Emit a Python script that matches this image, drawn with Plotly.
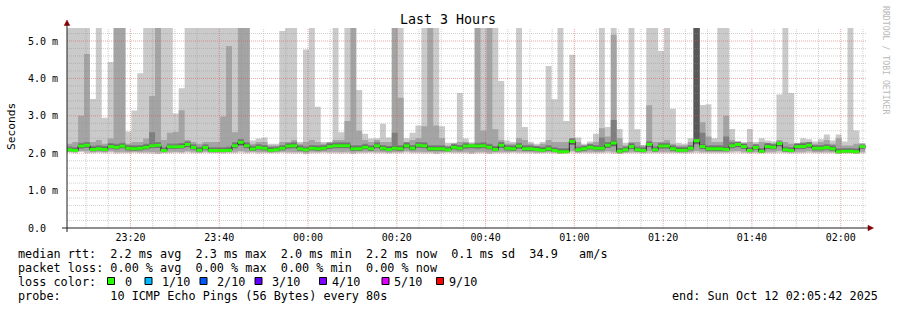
import numpy as np
import pandas as pd
import plotly.graph_objects as go

# ---------------- data (values in ms) ----------------
start_time = "2025-10-11 23:05:42"
end_time = "2025-10-12 02:05:42"
first_step = "2025-10-11 23:05:32"
step_seconds = 80

median_ms = [
    2.09, 2.07, 2.19, 2.21, 2.10, 2.12, 2.10, 2.18, 2.16, 2.19,
    2.13, 2.12, 2.13, 2.16, 2.20, 2.21, 2.07, 2.17, 2.17, 2.18,
    2.23, 2.15, 2.08, 2.15, 2.07, 2.07, 2.07, 2.08, 2.20, 2.29,
    2.20, 2.11, 2.15, 2.13, 2.08, 2.09, 2.13, 2.19, 2.20, 2.12,
    2.09, 2.13, 2.12, 2.13, 2.18, 2.20, 2.20, 2.20, 2.12, 2.12,
    2.16, 2.12, 2.20, 2.13, 2.10, 2.13, 2.12, 2.20, 2.13, 2.21,
    2.20, 2.12, 2.12, 2.12, 2.09, 2.16, 2.13, 2.19, 2.20, 2.19,
    2.20, 2.16, 2.10, 2.21, 2.13, 2.12, 2.19, 2.12, 2.12, 2.10,
    2.08, 2.12, 2.07, 2.04, 2.04, 2.31, 2.09, 2.12, 2.16, 2.13,
    2.13, 2.21, 2.27, 2.05, 2.09, 2.18, 2.09, 2.07, 2.23, 2.09,
    2.19, 2.19, 2.12, 2.08, 2.08, 2.13, 2.33, 2.18, 2.12, 2.12,
    2.12, 2.10, 2.20, 2.23, 2.18, 2.07, 2.15, 2.05, 2.18, 2.16,
    2.26, 2.09, 2.07, 2.18, 2.18, 2.21, 2.13, 2.13, 2.15, 2.12,
    2.04, 2.05, 2.05, 2.04, 2.18]

ping_max = [
    5.6, 5.6, 5.6, 5.6, 3.45, 5.6, 2.95, 4.44, 5.6, 5.6,
    2.58, 3.14, 4.14, 5.6, 5.6, 5.6, 5.6, 5.6, 3.06, 3.74,
    5.6, 5.6, 5.6, 5.6, 5.6, 5.6, 5.6, 5.6, 5.6, 5.6,
    5.6, 2.34, 2.39, 2.42, 2.25, 2.25, 5.27, 5.6, 5.6, 2.3,
    4.77, 5.6, 3.24, 2.3, 2.3, 5.6, 2.56, 5.6, 5.6, 3.69,
    2.52, 2.39, 2.4, 2.79, 2.42, 5.6, 5.6, 2.4, 2.55, 2.74,
    5.6, 5.6, 5.6, 2.72, 2.28, 2.28, 3.61, 2.39, 2.25, 5.6,
    5.6, 5.6, 5.6, 3.93, 2.34, 2.3, 5.6, 2.7, 2.3, 2.25,
    2.3, 4.33, 3.44, 5.6, 2.86, 4.63, 2.42, 2.25, 2.31, 2.52,
    5.6, 2.7, 5.6, 2.65, 2.28, 5.6, 2.64, 2.22, 5.6, 5.6,
    4.73, 5.6, 3.19, 2.28, 2.25, 2.4, 5.6, 3.29, 3.31, 2.4,
    5.6, 5.6, 2.65, 2.31, 2.3, 2.65, 2.3, 2.4, 2.34, 2.31,
    3.57, 5.6, 3.61, 2.28, 2.4, 2.37, 2.31, 2.37, 2.5, 2.34,
    2.5, 2.31, 5.6, 2.61, 2.25]

ping_p9 = [
    2.25, 2.3, 3.0, 4.65, 2.3, 2.35, 2.25, 2.39, 5.6, 5.6,
    2.25, 2.3, 2.3, 2.39, 3.53, 5.6, 2.35, 2.55, 2.57, 3.15,
    2.35, 2.3, 2.25, 2.3, 2.3, 2.3, 2.98, 4.87, 2.56, 5.6,
    5.6, 2.25, 2.3, 2.3, 2.2, 2.2, 2.3, 2.3, 2.35, 2.25,
    2.3, 2.35, 2.3, 2.25, 2.3, 2.35, 2.35, 2.86, 5.6, 2.6,
    2.35, 2.3, 2.35, 2.3, 2.3, 5.6, 3.48, 2.3, 2.35, 2.4,
    2.72, 5.6, 2.74, 2.4, 2.2, 2.25, 2.3, 2.3, 2.22, 5.6,
    2.61, 5.6, 2.64, 2.35, 2.25, 2.25, 2.4, 2.35, 2.25, 2.2,
    2.25, 2.35, 2.3, 2.3, 2.3, 2.4, 2.3, 2.2, 2.25, 2.3,
    2.67, 2.45, 5.17, 2.4, 2.2, 2.3, 2.3, 2.2, 3.28, 2.3,
    2.3, 2.35, 2.25, 2.2, 2.2, 2.3, 5.6, 2.83, 2.45, 2.3,
    2.3, 3.0, 2.35, 2.3, 2.25, 2.3, 2.25, 2.3, 2.28, 2.25,
    2.3, 2.3, 2.25, 2.25, 2.3, 2.3, 2.25, 2.3, 2.35, 2.25,
    2.4, 2.2, 2.2, 2.25, 2.2]

ping_p8 = [
    2.18, 2.16, 2.28, 2.30, 2.19, 2.21, 2.19, 2.27, 2.25, 2.28,
    2.22, 2.21, 2.22, 2.25, 2.56, 2.30, 2.16, 2.26, 2.26, 2.27,
    2.32, 2.24, 2.17, 2.24, 2.16, 2.16, 2.16, 2.17, 2.29, 2.38,
    2.29, 2.20, 2.24, 2.22, 2.17, 2.18, 2.22, 2.28, 2.29, 2.21,
    2.18, 2.22, 2.21, 2.22, 2.27, 2.29, 2.29, 2.29, 2.21, 2.21,
    2.25, 2.21, 2.29, 2.22, 2.19, 2.55, 2.21, 2.29, 2.22, 2.30,
    2.29, 2.21, 2.21, 2.21, 2.18, 2.25, 2.22, 2.28, 2.29, 2.28,
    2.29, 2.25, 2.19, 2.30, 2.22, 2.21, 2.28, 2.21, 2.21, 2.19,
    2.17, 2.21, 2.16, 2.13, 2.13, 2.40, 2.18, 2.21, 2.25, 2.22,
    2.42, 2.30, 2.89, 2.14, 2.18, 2.27, 2.18, 2.16, 2.32, 2.18,
    2.28, 2.28, 2.21, 2.17, 2.17, 2.22, 5.6, 2.55, 2.21, 2.21,
    2.21, 2.45, 2.29, 2.32, 2.27, 2.16, 2.24, 2.14, 2.27, 2.25,
    2.35, 2.18, 2.16, 2.27, 2.27, 2.30, 2.22, 2.22, 2.24, 2.21,
    2.13, 2.14, 2.14, 2.13, 2.27]

ping_p7 = [
    2.14, 2.12, 2.24, 2.26, 2.15, 2.17, 2.15, 2.23, 2.21, 2.24,
    2.18, 2.17, 2.18, 2.21, 2.25, 2.26, 2.12, 2.22, 2.22, 2.23,
    2.28, 2.20, 2.13, 2.20, 2.12, 2.12, 2.12, 2.13, 2.25, 2.34,
    2.25, 2.16, 2.20, 2.18, 2.13, 2.14, 2.18, 2.24, 2.25, 2.17,
    2.14, 2.18, 2.17, 2.18, 2.23, 2.25, 2.25, 2.25, 2.17, 2.17,
    2.21, 2.17, 2.25, 2.18, 2.15, 2.18, 2.17, 2.25, 2.18, 2.26,
    2.25, 2.17, 2.17, 2.17, 2.14, 2.21, 2.18, 2.24, 2.25, 2.24,
    2.25, 2.21, 2.15, 2.26, 2.18, 2.17, 2.24, 2.17, 2.17, 2.15,
    2.13, 2.17, 2.12, 2.09, 2.09, 2.36, 2.14, 2.17, 2.21, 2.18,
    2.18, 2.26, 2.32, 2.10, 2.14, 2.23, 2.14, 2.12, 2.28, 2.14,
    2.24, 2.24, 2.17, 2.13, 2.13, 2.18, 5.6, 2.23, 2.17, 2.17,
    2.17, 2.15, 2.25, 2.28, 2.23, 2.12, 2.20, 2.10, 2.23, 2.21,
    2.31, 2.14, 2.12, 2.23, 2.23, 2.26, 2.18, 2.18, 2.20, 2.17,
    2.09, 2.10, 2.10, 2.09, 2.23]

ping_p4 = [
    2.07, 2.06, 2.14, 2.16, 2.07, 2.09, 2.07, 2.14, 2.12, 2.15,
    2.09, 2.08, 2.09, 2.12, 2.15, 2.16, 2.05, 2.13, 2.13, 2.14,
    2.18, 2.11, 2.05, 2.11, 2.05, 2.05, 2.05, 2.06, 2.15, 2.22,
    2.15, 2.08, 2.11, 2.09, 2.06, 2.07, 2.09, 2.14, 2.15, 2.08,
    2.06, 2.09, 2.08, 2.09, 2.13, 2.15, 2.15, 2.15, 2.08, 2.08,
    2.12, 2.08, 2.15, 2.09, 2.07, 2.09, 2.08, 2.15, 2.09, 2.16,
    2.15, 2.08, 2.08, 2.08, 2.07, 2.12, 2.09, 2.14, 2.15, 2.14,
    2.15, 2.12, 2.07, 2.16, 2.09, 2.08, 2.14, 2.08, 2.08, 2.07,
    2.06, 2.08, 2.05, 2.03, 2.04, 2.24, 2.06, 2.08, 2.12, 2.09,
    2.09, 2.16, 2.20, 2.03, 2.06, 2.13, 2.06, 2.05, 2.18, 2.06,
    2.14, 2.14, 2.08, 2.06, 2.06, 2.09, 2.26, 2.13, 2.08, 2.08,
    2.08, 2.07, 2.15, 2.18, 2.13, 2.05, 2.11, 2.04, 2.13, 2.12,
    2.20, 2.06, 2.05, 2.13, 2.13, 2.16, 2.09, 2.09, 2.11, 2.08,
    2.03, 2.04, 2.04, 2.03, 2.13]

ping_p3 = [
    2.05, 2.04, 2.12, 2.14, 2.05, 2.07, 2.05, 2.12, 2.10, 2.13,
    2.07, 2.06, 2.07, 2.10, 2.13, 2.14, 2.03, 2.11, 2.11, 2.12,
    2.16, 2.09, 2.03, 2.09, 2.03, 2.03, 2.03, 2.04, 2.13, 2.20,
    2.13, 2.06, 2.09, 2.07, 2.04, 2.05, 2.07, 2.12, 2.13, 2.06,
    2.04, 2.07, 2.06, 2.07, 2.11, 2.13, 2.13, 2.13, 2.06, 2.06,
    2.10, 2.06, 2.13, 2.07, 2.05, 2.07, 2.06, 2.13, 2.07, 2.14,
    2.13, 2.06, 2.06, 2.06, 2.05, 2.10, 2.07, 2.12, 2.13, 2.12,
    2.13, 2.10, 2.05, 2.14, 2.07, 2.06, 2.12, 2.06, 2.06, 2.05,
    2.04, 2.06, 2.03, 2.01, 2.02, 2.22, 2.04, 2.06, 2.10, 2.07,
    2.07, 2.14, 2.18, 2.01, 2.04, 2.11, 2.04, 2.03, 2.16, 2.04,
    2.12, 2.12, 2.06, 2.04, 2.04, 2.07, 2.24, 2.11, 2.06, 2.06,
    2.06, 2.05, 2.13, 2.16, 2.11, 2.03, 2.09, 2.02, 2.11, 2.10,
    2.18, 2.04, 2.03, 2.11, 2.11, 2.14, 2.07, 2.07, 2.09, 2.06,
    2.01, 2.02, 2.02, 2.01, 2.11]

ping_p2 = [
    2.04, 2.03, 2.06, 2.05, 2.03, 2.04, 2.03, 2.05, 2.03, 2.04,
    2.03, 2.04, 2.03, 2.04, 2.03, 2.02, 2.02, 2.04, 2.04, 2.03,
    2.05, 2.04, 2.02, 2.04, 2.02, 2.02, 2.02, 2.03, 2.04, 2.06,
    2.04, 2.04, 2.03, 2.03, 2.02, 2.03, 2.04, 2.04, 2.03, 2.03,
    2.01, 2.04, 2.03, 2.04, 2.04, 2.04, 2.03, 2.04, 2.02, 2.04,
    2.04, 2.04, 2.04, 2.03, 2.02, 2.03, 2.03, 2.05, 2.04, 2.04,
    2.03, 2.03, 2.02, 2.03, 2.03, 2.04, 2.03, 2.04, 2.02, 2.04,
    2.04, 2.02, 2.03, 2.04, 2.03, 2.04, 2.04, 2.03, 2.03, 2.02,
    2.02, 2.03, 2.02, 2.00, 2.01, 2.06, 2.02, 2.03, 2.04, 2.03,
    2.03, 2.05, 2.04, 2.00, 2.02, 2.04, 2.03, 2.01, 2.05, 2.03,
    2.04, 2.04, 2.03, 2.02, 2.02, 2.03, 2.06, 2.04, 2.03, 2.03,
    2.03, 2.03, 2.05, 2.06, 2.04, 2.02, 2.03, 2.01, 2.04, 2.04,
    2.06, 2.03, 2.02, 2.04, 2.04, 2.05, 2.03, 2.03, 2.04, 2.03,
    2.00, 2.01, 2.01, 2.00, 2.04]

ping_min = [
    2.02, 2.00, 2.03, 2.00, 2.00, 2.01, 2.00, 2.02, 1.99, 2.00,
    2.00, 2.01, 2.00, 2.00, 1.99, 1.98, 2.00, 2.00, 2.01, 2.00,
    2.02, 2.00, 2.00, 2.01, 2.00, 2.00, 1.99, 2.00, 2.00, 2.02,
    2.00, 2.01, 1.99, 2.00, 2.00, 2.00, 2.01, 2.00, 1.99, 2.00,
    1.97, 2.00, 2.00, 2.01, 2.00, 2.00, 1.99, 2.00, 1.98, 2.00,
    2.00, 2.01, 2.00, 2.00, 1.99, 2.00, 2.00, 2.02, 2.00, 2.00,
    1.99, 2.00, 1.98, 2.00, 2.01, 2.00, 2.00, 2.00, 1.98, 2.00,
    2.00, 1.98, 2.00, 2.00, 2.00, 2.01, 2.00, 2.00, 2.00, 1.99,
    2.00, 2.00, 1.99, 1.98, 1.99, 2.02, 2.00, 2.00, 2.00, 2.00,
    2.00, 2.01, 1.99, 1.98, 2.00, 2.00, 2.00, 1.99, 2.00, 2.00,
    2.00, 2.00, 2.00, 2.00, 1.99, 2.00, 2.01, 2.00, 2.00, 2.00,
    2.00, 2.00, 2.01, 2.02, 2.00, 1.99, 2.00, 1.99, 2.00, 2.00,
    2.01, 2.00, 1.99, 2.00, 2.00, 2.01, 2.00, 2.00, 2.00, 2.00,
    1.98, 1.99, 1.99, 1.98, 2.00]

y_tick_vals = [0, 1, 2, 3, 4, 5]
y_tick_text = ["0.0\u00a0\u00a0", "1.0 m", "2.0 m", "3.0 m", "4.0 m", "5.0 m"]

loss_labels = ["0", "1/10", "2/10", "3/10", "4/10", "5/10", "9/10"]
loss_colors = ["#26ff00", "#00b8ff", "#0059ff", "#5e00ff", "#7e00ff", "#dd00ff", "#ff0000"]

title_text = "Last 3 Hours"
y_title = "Seconds"
stats_line = "median rtt:  2.2 ms avg  2.3 ms max  2.0 ms min  2.2 ms now  0.1 ms sd  34.9   am/s"
loss_line = "packet loss: 0.00 % avg  0.00 % max  0.00 % min  0.00 % now"
color_line = "loss color:"
probe_line = "probe:       10 ICMP Echo Pings (56 Bytes) every 80s"
end_line = "end: Sun Oct 12 02:05:42 2025"
watermark = "RRDTOOL / TOBI OETIKER"

# ---------------- layout geometry ----------------
W, H = 897, 310
PL, PR, PT, PB = 67, 866, 28, 228
Y_TOP = 5.348
MONO = "DejaVu Sans Mono"


def px(xp):
    return (xp - PL) / (PR - PL)


def py(yp):
    return (PB - yp) / (PB - PT)


def nb(s):
    return s.replace(" ", "\u00a0")


n = len(median_ms)
edges = pd.date_range(first_step, periods=n + 1, freq=f"{step_seconds}s")

smoke = np.sort(np.array([ping_min, ping_p2, ping_p3, ping_p4,
                          ping_p7, ping_p8, ping_p9, ping_max]), axis=0)
med = np.array(median_ms)


def ext(a):
    a = np.asarray(a, dtype=float)
    return np.append(a, a[-1])


fig = go.Figure()

layers = [(0, 7, "#cacaca"), (1, 6, "#a4a4a4"), (2, 5, "#7e7e7e"), (3, 4, "#585858")]
for lo_i, hi_i, col in layers:
    fig.add_trace(go.Scatter(x=edges, y=ext(smoke[lo_i]), mode="lines",
                             line=dict(width=0, color=col, shape="hv"),
                             hoverinfo="skip", showlegend=False))
    fig.add_trace(go.Scatter(x=edges, y=ext(smoke[hi_i]), mode="lines",
                             line=dict(width=0, color=col, shape="hv"),
                             fill="tonexty", fillcolor=col,
                             hoverinfo="skip", showlegend=False))

# median line (black step) and green loss-colored band
fig.add_trace(go.Scatter(x=edges, y=ext(med), mode="lines",
                         line=dict(width=1, color="#202020", shape="hv"),
                         hoverinfo="skip", showlegend=False))
band = 0.04
fig.add_trace(go.Scatter(x=edges, y=ext(med - band), mode="lines",
                         line=dict(width=0, color=loss_colors[0], shape="hv"),
                         hoverinfo="skip", showlegend=False))
fig.add_trace(go.Scatter(x=edges, y=ext(med + band), mode="lines",
                         line=dict(width=0, color=loss_colors[0], shape="hv"),
                         fill="tonexty", fillcolor=loss_colors[0],
                         hoverinfo="skip", showlegend=False))

shapes = []
GRID = "rgba(143,143,143,0.42)"
MGRID = "rgba(222,80,80,0.5)"
DASH = "1px,1px"

# vertical grid lines (minor every 5 min, major every 20 min)
t0, t1 = pd.Timestamp(start_time), pd.Timestamp(end_time)
minor_t = pd.date_range(t0.ceil("5min"), t1, freq="5min")
for t in minor_t:
    major = (t.minute % 20 == 0)
    shapes.append(dict(type="line", xref="x", yref="paper", x0=t, x1=t, y0=0, y1=1,
                       line=dict(color=MGRID if major else GRID, width=1, dash=DASH),
                       layer="above"))
# horizontal grid lines (minor every 0.2, major every 1.0)
for k in range(1, int(Y_TOP / 0.2) + 1):
    v = round(k * 0.2, 3)
    major = abs(v - round(v)) < 1e-6
    shapes.append(dict(type="line", xref="paper", yref="y", x0=0, x1=1, y0=v, y1=v,
                       line=dict(color=MGRID if major else GRID, width=1, dash=DASH),
                       layer="above"))

AXIS = "#1f1f1f"
ARROW = "#7f0000"
shapes.append(dict(type="line", xref="paper", yref="paper", x0=px(62), x1=px(870),
                   y0=0, y1=0, line=dict(color=AXIS, width=1), layer="above"))
shapes.append(dict(type="line", xref="paper", yref="paper", x0=0, x1=0,
                   y0=py(232), y1=py(22), line=dict(color=AXIS, width=1), layer="above"))
shapes.append(dict(type="path", xref="paper", yref="paper",
                   path=f"M {px(64.2)} {py(25.5)} L {px(69.8)} {py(25.5)} L {px(67)} {py(20)} Z",
                   fillcolor=ARROW, line=dict(color=ARROW, width=0.5), layer="above"))
shapes.append(dict(type="path", xref="paper", yref="paper",
                   path=f"M {px(868)} {py(225.2)} L {px(868)} {py(230.8)} L {px(873.5)} {py(228)} Z",
                   fillcolor=ARROW, line=dict(color=ARROW, width=0.5), layer="above"))

# legend squares
sq_left = [107.5, 145, 200, 255, 319.5, 382, 436.5]
lab_left = [122.5, 160, 215, 270, 330, 392, 447]
for xl, col in zip(sq_left, loss_colors):
    shapes.append(dict(type="rect", xref="paper", yref="paper",
                       x0=px(xl), x1=px(xl + 7), y0=py(284.5), y1=py(277.5),
                       fillcolor=col, line=dict(color="#000000", width=1)))

annotations = []


def ann(text, x, y, size, xanchor="left", angle=0, color="#000000"):
    annotations.append(dict(text=nb(text), x=px(x), y=py(y), xref="paper", yref="paper",
                            xanchor=xanchor, yanchor="middle", showarrow=False,
                            textangle=angle, font=dict(family=MONO, size=size, color=color)))


LS = 11.8
ann(title_text, 448, 20, 13.3, xanchor="center")
ann(y_title, 11, 127, 11.2, xanchor="center", angle=-90)
ann(watermark, 886, 60, 8.2, xanchor="center", angle=90, color="#b8b8b8")
ann(stats_line, 16, 253.5, LS)
ann(loss_line, 16, 267.5, LS)
ann(color_line, 16, 281.5, LS)
for xl, lab in zip(lab_left, loss_labels):
    ann(lab, xl, 281.5, LS)
ann(probe_line, 16, 295.5, LS)
ann(end_line, 880.5, 295.5, LS, xanchor="right")

fig.update_layout(
    width=W, height=H,
    margin=dict(l=PL, r=W - PR, t=PT, b=H - PB, pad=0),
    paper_bgcolor="#ffffff", plot_bgcolor="#ffffff",
    showlegend=False,
    shapes=shapes, annotations=annotations,
    xaxis=dict(type="date", range=[start_time, end_time], showgrid=False,
               zeroline=False, showline=False, ticks="",
               tick0="2025-10-11 23:20:00", dtick=20 * 60 * 1000, tickformat="%H:%M",
               tickfont=dict(family=MONO, size=10, color="#000000"),
               ticklabelstandoff=2, fixedrange=True),
    yaxis=dict(range=[0, Y_TOP], showgrid=False, zeroline=False, showline=False,
               ticks="", tickvals=y_tick_vals, ticktext=y_tick_text,
               tickfont=dict(family=MONO, size=10, color="#000000"),
               ticklabelstandoff=8, fixedrange=True),
)

fig.write_html("out.html")
